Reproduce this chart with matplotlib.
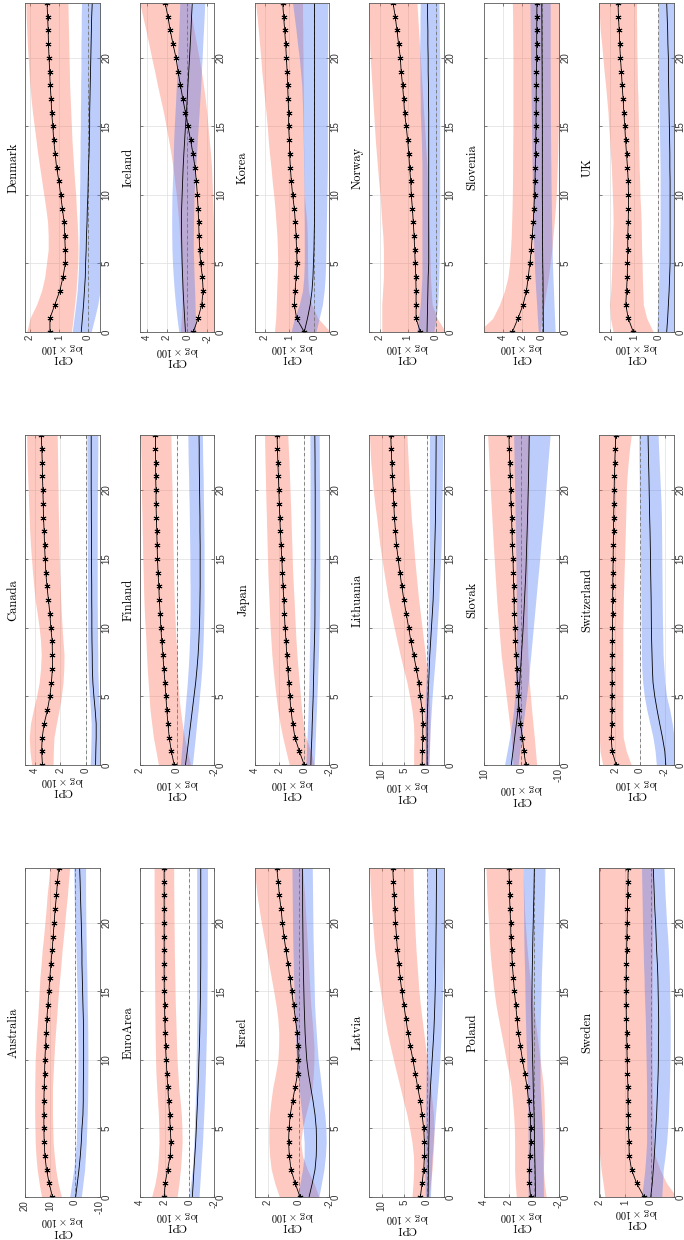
import matplotlib
matplotlib.use("Agg")
import matplotlib.pyplot as plt

plt.rcParams['mathtext.fontset'] = 'cm'
plt.rcParams['axes.unicode_minus'] = False

HORIZON = list(range(25))
HORIZON_TICKS = [0, 5, 10, 15, 20]

# ---------------- data: s = starred (red band), t = plain line (blue band) -------------
DK_S_MED = [1.31,1.31,1.14,0.97,0.86,0.78,0.78,0.80,0.82,0.88,0.94,1.00,1.08,1.13,1.18,1.21,1.25,1.27,1.30,1.32,1.34,1.36,1.37,1.39,1.41]
DK_S_HI = [2.11,2.0,1.77,1.6,1.49,1.43,1.37,1.37,1.39,1.45,1.52,1.59,1.66,1.73,1.79,1.85,1.91,1.96,2.0,2.03,2.06,2.09,2.11,2.13,2.14]
DK_S_LO = [0.57,0.51,0.46,0.41,0.38,0.35,0.34,0.35,0.37,0.40,0.42,0.46,0.49,0.52,0.55,0.57,0.59,0.61,0.63,0.64,0.65,0.66,0.67,0.68,0.69]
DK_T_MED = [0.23,0.19,0.15,0.12,0.09,0.08,0.06,0.05,0.03,0.02,0.0,-0.01,-0.02,-0.04,-0.05,-0.06,-0.06,-0.07,-0.08,-0.09,-0.10,-0.11,-0.12,-0.13,-0.15]
DK_T_HI = [0.54,0.48,0.42,0.37,0.34,0.32,0.31,0.30,0.30,0.29,0.29,0.28,0.28,0.27,0.27,0.26,0.26,0.25,0.25,0.24,0.24,0.24,0.23,0.23,0.22]
DK_T_LO = [-0.11,-0.23,-0.34,-0.42,-0.45,-0.48,-0.5,-0.52,-0.53,-0.54,-0.55,-0.56,-0.57,-0.57,-0.58,-0.58,-0.59,-0.59,-0.6,-0.6,-0.6,-0.61,-0.61,-0.62,-0.62]

IS_S_MED = [-0.6,-1.07,-1.43,-1.57,-1.5,-1.33,-1.23,-1.17,-1.13,-1.07,-1.0,-0.9,-0.77,-0.57,-0.33,-0.07,0.17,0.43,0.67,0.9,1.1,1.4,1.67,1.9,2.17]
IS_S_HI = [0.67,0.58,0.5,0.53,0.57,0.62,0.67,0.75,0.83,0.95,1.07,1.23,1.4,1.6,1.83,2.08,2.33,2.63,2.93,3.2,3.5,3.78,4.07,4.37,4.67]
IS_S_LO = [-2.7,-2.8,-2.85,-2.85,-2.85,-2.8,-2.75,-2.7,-2.6,-2.55,-2.5,-2.45,-2.4,-2.3,-2.17,-2.05,-1.93,-1.78,-1.6,-1.4,-1.17,-0.92,-0.67,-0.45,-0.25]
IS_T_MED = [0.17,0.25,0.33,0.4,0.45,0.5,0.53,0.55,0.57,0.55,0.5,0.45,0.4,0.33,0.25,0.17,0.08,0.0,-0.07,-0.15,-0.23,-0.3,-0.37,-0.43,-0.5]
IS_T_HI = [0.83,1.0,1.15,1.27,1.37,1.45,1.5,1.52,1.53,1.52,1.5,1.45,1.4,1.37,1.33,1.27,1.2,1.13,1.07,1.0,0.95,0.9,0.83,0.78,0.73]
IS_T_LO = [-0.83,-0.8,-0.77,-0.73,-0.68,-0.64,-0.6,-0.6,-0.62,-0.65,-0.67,-0.75,-0.83,-0.92,-1.0,-1.08,-1.17,-1.25,-1.33,-1.4,-1.47,-1.53,-1.6,-1.67,-1.73]

KR_S_MED = [0.4,0.71,0.8,0.77,0.73,0.69,0.71,0.73,0.76,0.8,0.87,0.92,0.96,0.99,1.0,1.03,1.03,1.05,1.07,1.09,1.12,1.15,1.19,1.23,1.27]
KR_S_HI = [1.6,1.55,1.53,1.51,1.49,1.47,1.48,1.5,1.54,1.58,1.63,1.69,1.74,1.8,1.85,1.89,1.94,2.0,2.05,2.11,2.15,2.2,2.25,2.3,2.36]
KR_S_LO = [-0.65,-0.15,0.1,0.23,0.26,0.27,0.27,0.28,0.3,0.35,0.4,0.41,0.42,0.42,0.43,0.43,0.43,0.44,0.44,0.45,0.45,0.46,0.46,0.47,0.47]
KR_T_MED = [0.4,0.27,0.16,0.09,0.05,0.03,0.01,0.0,-0.01,-0.01,-0.01,-0.01,-0.01,-0.01,-0.01,-0.01,-0.01,-0.01,-0.01,-0.01,-0.01,-0.01,-0.01,-0.01,-0.01]
KR_T_HI = [0.93,0.8,0.6,0.47,0.42,0.4,0.4,0.4,0.4,0.41,0.41,0.42,0.43,0.43,0.44,0.45,0.46,0.48,0.5,0.55,0.6,0.67,0.73,0.8,0.87]
KR_T_LO = [-0.07,-0.2,-0.33,-0.4,-0.44,-0.46,-0.47,-0.48,-0.49,-0.5,-0.51,-0.52,-0.53,-0.53,-0.53,-0.53,-0.53,-0.53,-0.53,-0.53,-0.53,-0.54,-0.54,-0.54,-0.55]

NO_S_MED = [0.55,0.7,0.7,0.7,0.71,0.73,0.75,0.77,0.8,0.83,0.87,0.89,0.93,0.96,1.0,1.05,1.11,1.14,1.18,1.23,1.26,1.32,1.38,1.44,1.52]
NO_S_HI = [1.92,1.92,1.92,1.89,1.86,1.86,1.86,1.88,1.92,1.95,1.98,2.03,2.07,2.11,2.15,2.18,2.21,2.24,2.27,2.3,2.33,2.35,2.36,2.38,2.4]
NO_S_LO = [-0.35,-0.05,0.13,0.16,0.19,0.2,0.21,0.23,0.25,0.27,0.28,0.3,0.31,0.34,0.37,0.4,0.43,0.46,0.49,0.52,0.55,0.58,0.61,0.64,0.67]
NO_T_MED = [0.31,0.3,0.29,0.28,0.27,0.25,0.25,0.25,0.25,0.25,0.25,0.25,0.25,0.25,0.25,0.25,0.25,0.26,0.26,0.27,0.27,0.28,0.28,0.29,0.29]
NO_T_HI = [0.67,0.61,0.55,0.52,0.49,0.49,0.49,0.49,0.49,0.49,0.49,0.49,0.49,0.5,0.51,0.53,0.55,0.55,0.56,0.56,0.57,0.57,0.56,0.56,0.55]
NO_T_LO = [0.07,-0.01,-0.07,-0.09,-0.11,-0.12,-0.13,-0.13,-0.14,-0.14,-0.14,-0.14,-0.14,-0.14,-0.14,-0.14,-0.14,-0.14,-0.14,-0.14,-0.14,-0.13,-0.13,-0.12,-0.11]

SI_S_MED = [3.03,2.45,1.93,1.59,1.41,1.24,1.1,1.0,0.9,0.83,0.76,0.72,0.69,0.66,0.64,0.62,0.61,0.6,0.59,0.58,0.55,0.55,0.54,0.53,0.52]
SI_S_HI = [6.5,5.03,4.34,3.83,3.48,3.31,3.22,3.14,3.1,3.06,3.03,3.01,3.0,2.99,2.98,2.97,2.97,2.97,2.97,2.97,2.97,2.98,2.99,3.0,3.03]
SI_S_LO = [0.2,0.0,-0.2,-0.42,-0.65,-0.82,-1.0,-1.12,-1.24,-1.35,-1.45,-1.5,-1.55,-1.6,-1.63,-1.66,-1.69,-1.71,-1.73,-1.75,-1.76,-1.77,-1.78,-1.79,-1.8]
SI_T_MED = [-0.14,-0.13,-0.12,-0.11,-0.1,-0.07,-0.06,-0.05,-0.05,-0.04,-0.03,-0.03,-0.03,-0.03,-0.03,-0.03,-0.02,-0.02,-0.01,-0.01,0.0,0.01,0.01,0.02,0.03]
SI_T_HI = [0.38,0.47,0.55,0.64,0.72,0.78,0.83,0.88,0.92,0.95,0.97,0.99,1.01,1.03,1.05,1.07,1.09,1.11,1.13,1.15,1.17,1.19,1.2,1.22,1.24]
SI_T_LO = [-1.34,-1.28,-1.22,-1.17,-1.11,-1.06,-1.03,-1.0,-0.97,-0.95,-0.93,-0.91,-0.9,-0.88,-0.87,-0.86,-0.85,-0.85,-0.84,-0.84,-0.83,-0.83,-0.83,-0.83,-0.83]

UK_S_MED = [1.03,1.24,1.34,1.31,1.28,1.27,1.26,1.26,1.24,1.23,1.23,1.24,1.27,1.31,1.35,1.38,1.42,1.45,1.49,1.52,1.56,1.59,1.61,1.64,1.66]
UK_S_HI = [1.86,1.97,2.0,1.96,1.93,1.91,1.89,1.88,1.86,1.87,1.89,1.91,1.93,1.97,2.0,2.04,2.07,2.12,2.17,2.23,2.28,2.33,2.39,2.42,2.45]
UK_S_LO = [0.21,0.48,0.62,0.64,0.66,0.67,0.69,0.7,0.71,0.73,0.76,0.77,0.79,0.8,0.81,0.82,0.83,0.84,0.86,0.87,0.88,0.89,0.89,0.9,0.9]
UK_T_MED = [-0.34,-0.38,-0.41,-0.44,-0.46,-0.48,-0.48,-0.48,-0.48,-0.48,-0.48,-0.48,-0.47,-0.47,-0.46,-0.45,-0.44,-0.43,-0.42,-0.41,-0.41,-0.39,-0.38,-0.36,-0.34]
UK_T_HI = [0.07,0.04,0.02,0.0,-0.02,-0.03,-0.05,-0.06,-0.07,-0.07,-0.07,-0.07,-0.07,-0.06,-0.05,-0.04,-0.03,-0.02,-0.01,0.0,0.0,0.0,0.0,0.0,0.0]
UK_T_LO = [-0.72,-0.74,-0.76,-0.78,-0.79,-0.8,-0.8,-0.8,-0.8,-0.8,-0.8,-0.8,-0.8,-0.8,-0.79,-0.78,-0.77,-0.76,-0.75,-0.74,-0.73,-0.72,-0.71,-0.7,-0.69]

CA_S_MED = [3.38,3.45,3.4,3.25,2.99,2.8,2.68,2.6,2.6,2.62,2.73,2.8,2.91,3.03,3.12,3.17,3.22,3.25,3.3,3.32,3.35,3.38,3.4,3.43,3.48]
CA_S_HI = [4.23,4.36,4.42,4.32,4.1,3.84,3.64,3.53,3.48,3.53,3.64,3.79,3.95,4.06,4.16,4.24,4.32,4.38,4.42,4.46,4.5,4.54,4.58,4.6,4.62]
CA_S_LO = [2.55,2.53,2.48,2.29,2.08,1.9,1.77,1.71,1.69,1.77,1.84,1.9,1.95,1.99,2.03,2.06,2.08,2.1,2.13,2.15,2.16,2.18,2.19,2.21,2.23]
CA_T_MED = [-0.78,-0.8,-0.83,-0.83,-0.75,-0.65,-0.57,-0.53,-0.52,-0.5,-0.49,-0.49,-0.48,-0.48,-0.47,-0.47,-0.46,-0.46,-0.45,-0.45,-0.44,-0.44,-0.44,-0.44,-0.44]
CA_T_HI = [-0.36,-0.4,-0.43,-0.44,-0.38,-0.31,-0.23,-0.2,-0.18,-0.17,-0.17,-0.16,-0.16,-0.15,-0.15,-0.14,-0.14,-0.13,-0.13,-0.12,-0.12,-0.11,-0.11,-0.1,-0.1]
CA_T_LO = [-1.09,-1.12,-1.14,-1.14,-1.1,-1.03,-0.99,-0.96,-0.96,-0.94,-0.93,-0.92,-0.91,-0.91,-0.91,-0.91,-0.91,-0.91,-0.91,-0.92,-0.93,-0.94,-0.95,-0.96,-0.96]

FI_S_MED = [0.15,0.31,0.42,0.49,0.55,0.6,0.65,0.71,0.76,0.82,0.87,0.91,0.95,0.98,1.02,1.05,1.07,1.09,1.11,1.13,1.13,1.15,1.15,1.16,1.16]
FI_S_HI = [1.0,1.13,1.27,1.36,1.45,1.5,1.55,1.6,1.64,1.67,1.71,1.75,1.78,1.8,1.82,1.84,1.85,1.87,1.88,1.9,1.91,1.92,1.93,1.95,1.96]
FI_S_LO = [-0.73,-0.55,-0.4,-0.28,-0.18,-0.1,-0.05,-0.02,0.0,0.05,0.09,0.12,0.15,0.17,0.18,0.2,0.22,0.23,0.24,0.26,0.27,0.29,0.3,0.32,0.33]
FI_T_MED = [-0.45,-0.55,-0.64,-0.73,-0.82,-0.91,-1.0,-1.07,-1.13,-1.17,-1.2,-1.22,-1.23,-1.24,-1.24,-1.24,-1.24,-1.23,-1.23,-1.22,-1.21,-1.2,-1.19,-1.19,-1.18]
FI_T_HI = [-0.18,-0.24,-0.3,-0.36,-0.43,-0.49,-0.55,-0.6,-0.64,-0.67,-0.69,-0.7,-0.7,-0.7,-0.69,-0.69,-0.68,-0.67,-0.66,-0.65,-0.63,-0.62,-0.6,-0.59,-0.58]
FI_T_LO = [-0.82,-0.9,-0.98,-1.05,-1.13,-1.2,-1.27,-1.33,-1.37,-1.4,-1.42,-1.44,-1.45,-1.45,-1.45,-1.45,-1.45,-1.44,-1.43,-1.42,-1.41,-1.4,-1.38,-1.37,-1.36]

JP_S_MED = [0.0,0.4,0.75,0.93,1.07,1.17,1.25,1.33,1.41,1.47,1.55,1.6,1.65,1.71,1.76,1.81,1.87,1.92,1.97,2.01,2.05,2.08,2.13,2.16,2.19]
JP_S_HI = [1.2,1.47,1.73,1.95,2.13,2.27,2.4,2.51,2.61,2.68,2.75,2.8,2.84,2.89,2.93,2.96,2.99,3.02,3.05,3.08,3.11,3.13,3.16,3.18,3.2]
JP_S_LO = [-0.8,-0.53,-0.13,0.08,0.21,0.31,0.4,0.5,0.59,0.66,0.72,0.77,0.82,0.88,0.93,0.97,1.0,1.04,1.07,1.11,1.15,1.19,1.23,1.28,1.33]
JP_T_MED = [-0.53,-0.56,-0.61,-0.64,-0.68,-0.72,-0.74,-0.77,-0.79,-0.82,-0.85,-0.86,-0.86,-0.87,-0.87,-0.88,-0.88,-0.88,-0.88,-0.88,-0.88,-0.87,-0.87,-0.86,-0.85]
JP_T_HI = [-0.13,-0.18,-0.22,-0.27,-0.31,-0.34,-0.37,-0.39,-0.41,-0.43,-0.45,-0.46,-0.47,-0.47,-0.48,-0.48,-0.48,-0.48,-0.48,-0.47,-0.47,-0.47,-0.46,-0.46,-0.45]
JP_T_LO = [-0.8,-0.85,-0.89,-0.93,-0.98,-1.02,-1.07,-1.1,-1.14,-1.17,-1.2,-1.22,-1.23,-1.24,-1.25,-1.25,-1.25,-1.25,-1.24,-1.24,-1.23,-1.22,-1.21,-1.21,-1.2]

LT_S_MED = [1.11,1.04,0.96,0.96,1.11,1.48,1.85,2.37,2.96,3.56,4.07,4.59,5.11,5.56,6.0,6.37,6.74,6.96,7.19,7.33,7.48,7.63,7.78,7.9,8.0]
LT_S_HI = [2.96,2.96,2.9,3.0,3.33,3.85,4.44,5.2,5.93,6.6,7.26,7.9,8.52,9.0,9.48,9.95,10.4,10.75,11.1,11.5,11.85,12.1,12.4,12.55,12.7]
LT_S_LO = [-0.37,-0.5,-0.59,-0.6,-0.59,-0.4,-0.15,0.1,0.37,0.75,1.11,1.48,1.85,2.15,2.44,2.74,2.96,3.22,3.48,3.67,3.85,4.0,4.15,4.3,4.44]
LT_T_MED = [0.0,0.0,0.0,0.0,-0.1,-0.22,-0.35,-0.47,-0.59,-0.78,-0.96,-1.15,-1.33,-1.43,-1.53,-1.63,-1.7,-1.78,-1.85,-1.88,-1.92,-1.94,-1.96,-1.98,-2.0]
LT_T_HI = [0.37,0.4,0.45,0.52,0.45,0.37,0.25,0.12,0.0,-0.1,-0.19,-0.28,-0.37,-0.41,-0.45,-0.48,-0.5,-0.5,-0.51,-0.51,-0.52,-0.52,-0.52,-0.52,-0.52]
LT_T_LO = [-0.37,-0.5,-0.6,-0.74,-0.93,-1.11,-1.35,-1.6,-1.85,-2.05,-2.22,-2.41,-2.59,-2.72,-2.85,-2.98,-3.1,-3.16,-3.22,-3.28,-3.33,-3.37,-3.41,-3.46,-3.5]

SK_S_MED = [-1.18,-0.64,-0.27,0.27,0.64,0.82,1.09,1.27,1.45,1.64,1.73,1.91,2.0,2.09,2.18,2.27,2.45,2.55,2.64,2.82,2.91,3.0,3.18,3.27,3.36]
SK_S_HI = [2.27,2.5,2.73,3.2,3.64,4.1,4.55,5.0,5.45,5.75,6.05,6.35,6.64,6.87,7.1,7.32,7.55,7.75,7.95,8.15,8.36,8.55,8.73,8.9,9.09]
SK_S_LO = [-4.09,-3.77,-3.45,-3.09,-2.73,-2.41,-2.09,-1.91,-1.73,-1.64,-1.55,-1.55,-1.55,-1.6,-1.64,-1.68,-1.73,-1.77,-1.82,-1.86,-1.91,-1.95,-2.0,-2.05,-2.1]
SK_T_MED = [2.73,2.27,1.82,1.36,0.91,0.68,0.45,0.23,0.0,-0.23,-0.45,-0.64,-0.82,-1.0,-1.18,-1.3,-1.41,-1.53,-1.64,-1.73,-1.82,-1.91,-1.97,-2.03,-2.09]
SK_T_HI = [4.55,3.86,3.18,2.6,2.09,1.8,1.55,1.45,1.4,1.38,1.36,1.36,1.38,1.4,1.45,1.5,1.55,1.6,1.68,1.75,1.82,1.9,1.97,2.03,2.09]
SK_T_LO = [0.91,0.45,0.0,-0.45,-0.91,-1.36,-1.82,-2.15,-2.5,-2.84,-3.18,-3.52,-3.86,-4.2,-4.55,-4.9,-5.2,-5.55,-5.9,-6.2,-6.5,-6.8,-7.1,-7.4,-7.7]

CH_S_MED = [1.92,2.24,2.32,2.27,2.26,2.26,2.25,2.25,2.24,2.23,2.22,2.21,2.2,2.19,2.18,2.16,2.15,2.13,2.12,2.1,2.08,2.06,2.03,1.99,1.95]
CH_S_HI = [3.0,3.22,3.27,3.28,3.28,3.28,3.28,3.28,3.28,3.28,3.28,3.28,3.28,3.28,3.28,3.28,3.28,3.28,3.28,3.28,3.28,3.28,3.28,3.28,3.28]
CH_S_LO = [0.7,1.1,1.35,1.38,1.38,1.38,1.38,1.38,1.38,1.38,1.38,1.36,1.34,1.31,1.28,1.24,1.21,1.18,1.15,1.12,1.1,1.04,0.95,0.84,0.7]
CH_T_MED = [-2.08,-2.0,-1.81,-1.59,-1.38,-1.19,-1.05,-1.0,-0.97,-0.94,-0.92,-0.91,-0.9,-0.88,-0.86,-0.85,-0.83,-0.81,-0.78,-0.76,-0.74,-0.72,-0.69,-0.67,-0.65]
CH_T_HI = [-1.32,-1.22,-1.05,-0.8,-0.55,-0.35,-0.22,-0.15,-0.12,-0.1,-0.09,-0.08,-0.07,-0.06,-0.05,-0.03,-0.02,-0.01,0.03,0.04,0.05,0.06,0.08,0.09,0.1]
CH_T_LO = [-2.8,-2.8,-2.75,-2.6,-2.4,-2.14,-2.0,-1.93,-1.86,-1.84,-1.82,-1.8,-1.79,-1.78,-1.77,-1.76,-1.75,-1.74,-1.73,-1.7,-1.65,-1.6,-1.55,-1.5,-1.46]

AU_S_MED = [8.93,10.27,11.33,12.0,12.27,12.4,12.4,12.4,12.27,12.13,12.0,11.73,11.47,11.2,10.8,10.4,10.0,9.6,9.07,8.67,8.27,7.87,7.33,6.93,6.4]
AU_S_HI = [13.3,14.3,15.1,15.6,15.9,16.0,16.1,16.1,16.1,16.0,15.9,15.6,15.3,14.9,14.6,14.3,14.0,13.5,13.1,12.5,12.0,11.5,11.1,10.5,10.0]
AU_S_LO = [5.33,6.67,7.6,8.2,8.67,8.8,8.93,8.93,8.93,8.67,8.4,8.1,7.73,7.3,6.93,6.5,6.0,5.5,5.07,4.5,4.0,3.5,2.93,2.5,2.0]
AU_T_MED = [-0.4,-1.07,-1.73,-2.27,-2.67,-2.93,-3.33,-3.47,-3.47,-3.55,-3.6,-3.6,-3.55,-3.5,-3.33,-3.2,-3.07,-2.93,-2.93,-2.8,-2.67,-2.5,-2.33,-2.2,-2.0]
AU_T_HI = [2.0,1.2,0.4,-0.2,-0.67,-0.8,-0.93,-1.07,-1.15,-1.25,-1.33,-1.3,-1.2,-1.1,-1.07,-0.95,-0.8,-0.67,-0.55,-0.4,-0.1,0.1,0.2,0.3,0.4]
AU_T_LO = [-2.67,-3.33,-4.0,-4.33,-4.67,-4.87,-5.07,-5.2,-5.27,-5.3,-5.33,-5.3,-5.27,-5.2,-5.07,-5.0,-4.93,-4.8,-4.67,-4.6,-4.5,-4.45,-4.4,-4.4,-4.4]

EA_S_MED = [2.04,1.96,1.76,1.55,1.49,1.55,1.6,1.68,1.74,1.82,1.87,1.93,1.96,1.99,2.01,2.03,2.04,2.04,2.04,2.04,2.04,2.04,2.04,2.04,2.04]
EA_S_HI = [3.05,2.77,2.58,2.5,2.45,2.47,2.5,2.57,2.64,2.7,2.73,2.75,2.77,2.78,2.79,2.8,2.81,2.82,2.83,2.83,2.84,2.84,2.85,2.85,2.85]
EA_S_LO = [1.0,0.85,0.73,0.65,0.59,0.61,0.65,0.75,0.86,0.93,1.0,1.04,1.07,1.1,1.14,1.16,1.18,1.2,1.22,1.23,1.24,1.25,1.26,1.27,1.27]
EA_T_MED = [-0.23,-0.3,-0.36,-0.43,-0.5,-0.55,-0.6,-0.65,-0.69,-0.73,-0.76,-0.8,-0.83,-0.85,-0.87,-0.89,-0.9,-0.91,-0.91,-0.91,-0.91,-0.91,-0.91,-0.91,-0.91]
EA_T_HI = [0.05,-0.1,-0.23,-0.3,-0.36,-0.4,-0.43,-0.47,-0.5,-0.52,-0.54,-0.56,-0.57,-0.58,-0.58,-0.58,-0.58,-0.58,-0.58,-0.58,-0.58,-0.58,-0.58,-0.58,-0.58]
EA_T_LO = [-0.77,-0.84,-0.91,-0.98,-1.05,-1.1,-1.15,-1.2,-1.24,-1.28,-1.31,-1.34,-1.37,-1.39,-1.4,-1.41,-1.42,-1.43,-1.43,-1.44,-1.44,-1.45,-1.45,-1.45,-1.45]

IL_S_MED = [-0.1,0.22,0.49,0.6,0.65,0.62,0.54,0.39,0.22,0.06,0.02,0.04,0.09,0.2,0.32,0.45,0.56,0.69,0.82,0.95,1.05,1.14,1.25,1.33,1.42]
IL_S_HI = [1.25,1.55,1.78,1.89,1.94,1.94,1.9,1.8,1.68,1.5,1.35,1.3,1.29,1.35,1.47,1.62,1.78,1.94,2.1,2.27,2.43,2.57,2.71,2.8,2.86]
IL_S_LO = [-1.33,-1.01,-0.58,-0.26,-0.15,-0.26,-0.47,-0.7,-0.9,-0.97,-1.01,-1.01,-0.95,-0.88,-0.8,-0.75,-0.7,-0.65,-0.6,-0.55,-0.5,-0.45,-0.4,-0.33,-0.26]
IL_T_MED = [-0.69,-0.9,-1.08,-1.16,-1.18,-1.16,-1.08,-0.95,-0.8,-0.65,-0.54,-0.48,-0.43,-0.4,-0.37,-0.35,-0.33,-0.31,-0.3,-0.29,-0.28,-0.27,-0.27,-0.26,-0.26]
IL_T_HI = [0.06,-0.1,-0.26,-0.37,-0.37,-0.3,-0.22,-0.12,-0.04,0.05,0.13,0.17,0.2,0.23,0.26,0.29,0.32,0.34,0.36,0.38,0.39,0.4,0.41,0.42,0.43]
IL_T_LO = [-1.33,-1.5,-1.66,-1.76,-1.81,-1.79,-1.72,-1.6,-1.5,-1.4,-1.29,-1.22,-1.16,-1.1,-1.05,-1.03,-1.01,-0.99,-0.97,-0.95,-0.94,-0.93,-0.92,-0.91,-0.9]

LV_S_MED = [1.48,1.11,0.74,0.59,0.59,0.74,1.11,1.48,2.07,2.59,3.11,3.7,4.22,4.67,5.11,5.56,5.93,6.22,6.52,6.74,6.96,7.11,7.26,7.41,7.56]
LV_S_HI = [3.33,3.1,2.96,3.0,3.33,3.85,4.44,5.2,5.93,6.67,7.41,8.1,8.74,9.3,9.78,10.25,10.7,11.1,11.5,11.75,12.0,12.2,12.4,12.55,12.7]
LV_S_LO = [-0.37,-0.74,-1.11,-1.3,-1.48,-1.5,-1.4,-1.1,-0.74,-0.37,0.0,0.37,0.74,1.11,1.48,1.8,2.0,2.22,2.44,2.6,2.74,2.85,2.96,3.04,3.11]
LV_T_MED = [-0.22,-0.26,-0.3,-0.33,-0.37,-0.45,-0.52,-0.6,-0.74,-0.92,-1.11,-1.3,-1.48,-1.6,-1.7,-1.78,-1.85,-1.89,-1.93,-1.96,-2.0,-2.02,-2.04,-2.06,-2.07]
LV_T_HI = [0.37,0.45,0.5,0.52,0.5,0.45,0.37,0.3,0.25,0.2,0.15,0.1,0.05,0.02,0.0,0.0,0.0,0.0,0.0,0.02,0.04,0.07,0.1,0.12,0.15]
LV_T_LO = [-0.74,-0.85,-0.95,-1.11,-1.35,-1.6,-1.85,-2.1,-2.35,-2.6,-2.81,-2.96,-3.1,-3.22,-3.33,-3.43,-3.52,-3.6,-3.7,-3.75,-3.78,-3.8,-3.82,-3.84,-3.85]

PL_S_MED = [0.26,0.37,0.37,0.32,0.26,0.26,0.29,0.43,0.54,0.73,0.92,1.08,1.25,1.36,1.46,1.57,1.65,1.74,1.79,1.85,1.87,1.92,1.96,1.98,2.0]
PL_S_HI = [1.41,1.5,1.55,1.55,1.55,1.57,1.63,1.72,1.82,2.0,2.23,2.43,2.64,2.85,3.05,3.2,3.32,3.44,3.54,3.6,3.65,3.72,3.78,3.82,3.86]
PL_S_LO = [-0.99,-0.85,-0.77,-0.8,-0.85,-0.85,-0.85,-0.82,-0.77,-0.65,-0.5,-0.37,-0.23,-0.09,0.05,0.18,0.32,0.43,0.54,0.62,0.7,0.76,0.8,0.83,0.86]
PL_T_MED = [-0.14,-0.12,-0.1,-0.07,-0.05,-0.04,-0.02,0.02,0.05,0.07,0.1,0.12,0.14,0.15,0.16,0.15,0.14,0.12,0.1,0.08,0.05,0.03,0.0,-0.02,-0.04]
PL_T_HI = [0.46,0.46,0.46,0.46,0.46,0.47,0.48,0.5,0.51,0.55,0.58,0.62,0.65,0.68,0.7,0.72,0.73,0.76,0.79,0.81,0.82,0.83,0.84,0.85,0.86]
PL_T_LO = [-0.77,-0.76,-0.75,-0.74,-0.72,-0.68,-0.62,-0.56,-0.5,-0.5,-0.5,-0.5,-0.5,-0.52,-0.55,-0.58,-0.6,-0.64,-0.68,-0.72,-0.77,-0.81,-0.85,-0.88,-0.91]

SE_S_MED = [0.27,0.56,0.76,0.85,0.86,0.88,0.89,0.9,0.9,0.92,0.93,0.94,0.95,0.96,0.97,0.97,0.97,0.96,0.95,0.94,0.93,0.92,0.91,0.9,0.89]
SE_S_HI = [1.8,1.87,1.95,2.0,2.05,2.1,2.1,2.1,2.1,2.1,2.1,2.1,2.1,2.1,2.1,2.1,2.1,2.1,2.1,2.1,2.1,2.1,2.1,2.1,2.1]
SE_S_LO = [-1.0,-0.61,-0.35,-0.16,-0.1,-0.08,-0.07,-0.06,-0.05,-0.05,-0.04,-0.04,-0.04,-0.04,-0.04,-0.04,-0.05,-0.05,-0.06,-0.06,-0.07,-0.07,-0.08,-0.08,-0.09]
SE_T_MED = [0.01,-0.05,-0.09,-0.13,-0.16,-0.19,-0.22,-0.24,-0.26,-0.28,-0.29,-0.29,-0.3,-0.3,-0.29,-0.28,-0.27,-0.25,-0.22,-0.2,-0.18,-0.15,-0.13,-0.11,-0.09]
SE_T_HI = [0.37,0.3,0.24,0.2,0.17,0.17,0.17,0.17,0.17,0.18,0.19,0.2,0.21,0.22,0.24,0.26,0.27,0.29,0.3,0.32,0.33,0.34,0.35,0.36,0.37]
SE_T_LO = [-0.42,-0.45,-0.48,-0.55,-0.61,-0.65,-0.68,-0.7,-0.72,-0.73,-0.74,-0.75,-0.75,-0.75,-0.74,-0.73,-0.72,-0.7,-0.68,-0.65,-0.61,-0.58,-0.55,-0.53,-0.51]

# ---------------- panel table -----------------
SERIES = {
    'Denmark': (DK_S_MED, DK_S_LO, DK_S_HI, DK_T_MED, DK_T_LO, DK_T_HI),
    'Iceland': (IS_S_MED, IS_S_LO, IS_S_HI, IS_T_MED, IS_T_LO, IS_T_HI),
    'Korea': (KR_S_MED, KR_S_LO, KR_S_HI, KR_T_MED, KR_T_LO, KR_T_HI),
    'Norway': (NO_S_MED, NO_S_LO, NO_S_HI, NO_T_MED, NO_T_LO, NO_T_HI),
    'Slovenia': (SI_S_MED, SI_S_LO, SI_S_HI, SI_T_MED, SI_T_LO, SI_T_HI),
    'UK': (UK_S_MED, UK_S_LO, UK_S_HI, UK_T_MED, UK_T_LO, UK_T_HI),
    'Canada': (CA_S_MED, CA_S_LO, CA_S_HI, CA_T_MED, CA_T_LO, CA_T_HI),
    'Finland': (FI_S_MED, FI_S_LO, FI_S_HI, FI_T_MED, FI_T_LO, FI_T_HI),
    'Japan': (JP_S_MED, JP_S_LO, JP_S_HI, JP_T_MED, JP_T_LO, JP_T_HI),
    'Lithuania': (LT_S_MED, LT_S_LO, LT_S_HI, LT_T_MED, LT_T_LO, LT_T_HI),
    'Slovak': (SK_S_MED, SK_S_LO, SK_S_HI, SK_T_MED, SK_T_LO, SK_T_HI),
    'Switzerland': (CH_S_MED, CH_S_LO, CH_S_HI, CH_T_MED, CH_T_LO, CH_T_HI),
    'Australia': (AU_S_MED, AU_S_LO, AU_S_HI, AU_T_MED, AU_T_LO, AU_T_HI),
    'EuroArea': (EA_S_MED, EA_S_LO, EA_S_HI, EA_T_MED, EA_T_LO, EA_T_HI),
    'Israel': (IL_S_MED, IL_S_LO, IL_S_HI, IL_T_MED, IL_T_LO, IL_T_HI),
    'Latvia': (LV_S_MED, LV_S_LO, LV_S_HI, LV_T_MED, LV_T_LO, LV_T_HI),
    'Poland': (PL_S_MED, PL_S_LO, PL_S_HI, PL_T_MED, PL_T_LO, PL_T_HI),
    'Sweden': (SE_S_MED, SE_S_LO, SE_S_HI, SE_T_MED, SE_T_LO, SE_T_HI),
}

# CPI axis limits (upper, lower) and ticks for each panel
CPI_LIMITS = {
    'Denmark': (2.17, -0.4), 'Iceland': (4.67, -2.67), 'Korea': (2.4, -0.6),
    'Norway': (2.36, -0.29), 'Slovenia': (5.9, -1.7), 'UK': (2.44, -0.62),
    'Canada': (4.75, -1.09), 'Finland': (2.0, -2.0), 'Japan': (4.0, -2.0),
    'Lithuania': (12.7, -3.7), 'Slovak': (10.0, -10.0), 'Switzerland': (3.3, -2.7),
    'Australia': (20.0, -10.0), 'EuroArea': (4.0, -2.0), 'Israel': (2.87, -2.0),
    'Latvia': (12.7, -3.7), 'Poland': (4.0, -2.0), 'Sweden': (2.03, -0.88),
}
CPI_TICKS = {
    'Denmark': [0, 1, 2], 'Iceland': [-2, 0, 2, 4], 'Korea': [0, 1, 2],
    'Norway': [0, 1, 2], 'Slovenia': [0, 2, 4], 'UK': [0, 1, 2],
    'Canada': [0, 2, 4], 'Finland': [-2, 0, 2], 'Japan': [-2, 0, 2, 4],
    'Lithuania': [0, 5, 10], 'Slovak': [-10, 0, 10], 'Switzerland': [-2, 0, 2],
    'Australia': [-10, 0, 10, 20], 'EuroArea': [-2, 0, 2, 4], 'Israel': [-2, 0, 2],
    'Latvia': [0, 5, 10], 'Poland': [-2, 0, 2, 4], 'Sweden': [0, 1, 2],
}

BANDS = [
    ['Denmark', 'Iceland', 'Korea', 'Norway', 'Slovenia', 'UK'],
    ['Canada', 'Finland', 'Japan', 'Lithuania', 'Slovak', 'Switzerland'],
    ['Australia', 'EuroArea', 'Israel', 'Latvia', 'Poland', 'Sweden'],
]

# ---------------- layout (pixels) -----------------
W, H = 684, 1240
BAND_Y = [(3, 332), (435, 765), (868, 1197)]
COL_X0, COL_STEP, COL_W = 25, 114.8, 74.5

RED = (0.98, 0.45, 0.36)
BLUE = (0.28, 0.45, 0.96)
SERIF = 'cmr10'
SANS = 'Liberation Sans'

fig = plt.figure(figsize=(W / 100, H / 100), dpi=100)

for b, row in enumerate(BANDS):
    top, bot = BAND_Y[b]
    for c, name in enumerate(row):
        left = COL_X0 + c * COL_STEP
        ax = fig.add_axes([left / W, 1 - bot / H, COL_W / W, (bot - top) / H])
        s_med, s_lo, s_hi, t_med, t_lo, t_hi = SERIES[name]
        ax.fill_betweenx(HORIZON, s_lo, s_hi, color=RED, alpha=0.38, lw=0)
        ax.fill_betweenx(HORIZON, t_lo, t_hi, color=BLUE, alpha=0.36, lw=0)
        ax.axvline(0, color='0.45', lw=0.6, ls=(0, (4, 3)))
        ax.plot(t_med, HORIZON, color='k', lw=0.6)
        ax.plot(s_med, HORIZON, color='k', lw=0.6, marker=(6, 2, 0), ms=4.3, mew=0.6)

        ax.set_xlim(*CPI_LIMITS[name])
        ax.set_ylim(0, 24)
        ax.set_xticks(CPI_TICKS[name])
        ax.set_yticks(HORIZON_TICKS)
        ax.grid(True, color='#dedede', lw=0.5)
        ax.set_axisbelow(True)
        for sp in ax.spines.values():
            sp.set_color('0.35')
            sp.set_linewidth(0.6)
        ax.tick_params(axis='both', direction='in', length=2.5, width=0.5, colors='0.3',
                       top=True, bottom=True, left=True, right=True,
                       labelleft=False, labelright=True, labelbottom=True, labeltop=False,
                       labelsize=7, labelcolor='0.2')
        ax.tick_params(axis='y', pad=1.2, labelrotation=90)
        ax.tick_params(axis='x', pad=2.0, labelrotation=90)
        for lab in ax.get_yticklabels():
            lab.set_fontfamily(SANS)
            lab.set_va('center')
        for lab in ax.get_xticklabels():
            lab.set_fontfamily(SANS)

        # title (rotated, left of the panel)
        ax.annotate(name, xy=(0, 0.5), xycoords='axes fraction', xytext=(-8.3, 0),
                    textcoords='offset points', rotation=90, ha='center', va='center',
                    fontsize=9, family=SERIF)
        # CPI axis label (upside down, below the tick labels)
        xl = ax.set_xlabel(r'$\log \times 100$', rotation=180, labelpad=0.3, fontsize=7.5)
        ax.annotate('CPI', xy=(0.5, 0), xycoords=xl, xytext=(0, 1.0),
                    textcoords='offset points', rotation=180, ha='center', va='top',
                    fontsize=8, family=SERIF)

fig.savefig('out.png', dpi=100)
